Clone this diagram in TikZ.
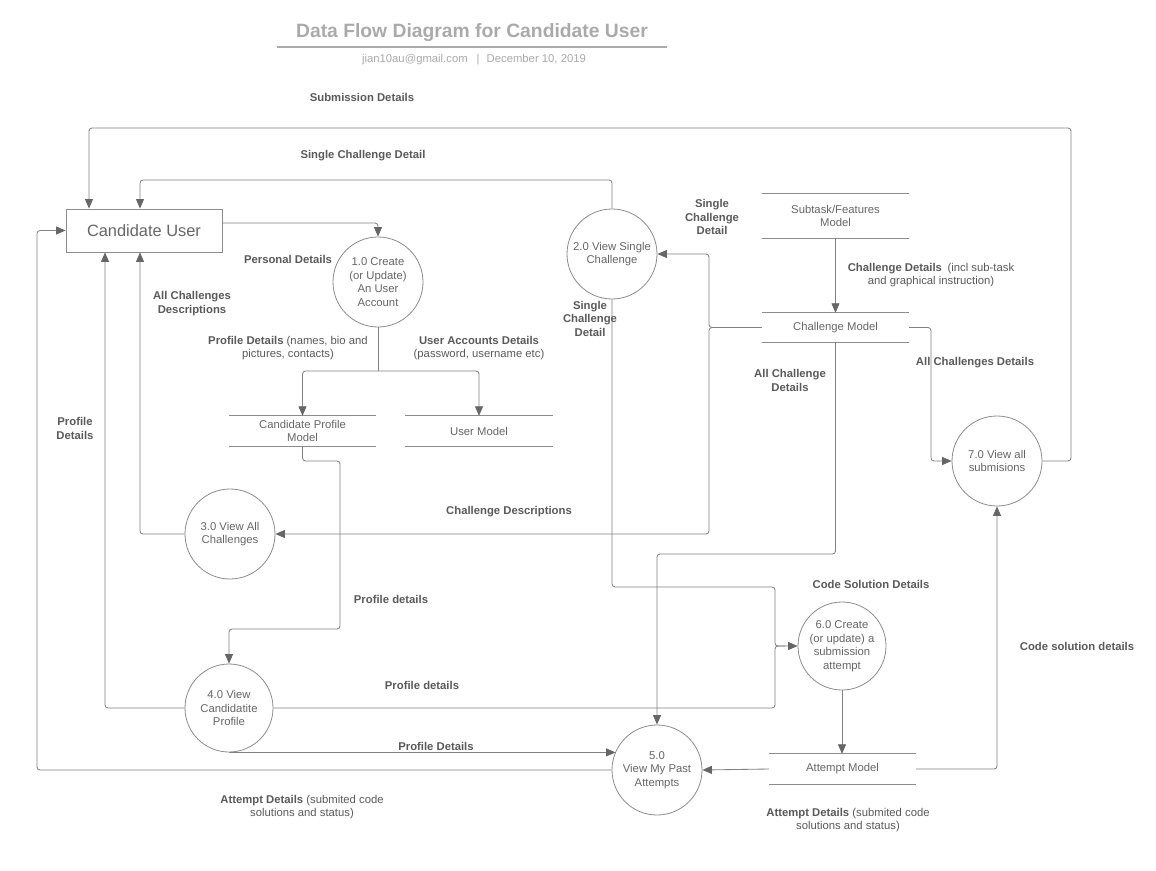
\documentclass[tikz,border=0pt]{standalone}
\usepackage{fontspec}
\setmainfont{Liberation Sans}
\usetikzlibrary{arrows.meta}
\definecolor{ln}{HTML}{828282}
\definecolor{circ}{HTML}{8C8C8C}
\definecolor{txt}{HTML}{666666}
\definecolor{lbltxt}{HTML}{5A5A5A}
\definecolor{ttl}{HTML}{AAAAAA}
\definecolor{sub}{HTML}{AAAAAA}
\definecolor{arr}{HTML}{666666}
\begin{document}
\begin{tikzpicture}[x=1pt,y=-1pt,
  every node/.style={font=\fontsize{11.3}{13.5}\selectfont, text=txt},
  proc/.style={circle,draw=circ,line width=0.8pt,minimum size=90pt,inner sep=0pt,align=center},
  store/.style={minimum width=147pt,inner sep=0pt,align=center},
  storeline/.style={draw=circ,line width=0.9pt},
  flow/.style={draw=ln,line width=0.85pt,rounded corners=3pt,-{Triangle[length=9.5pt,width=8pt,color=arr]}},
  wire/.style={draw=ln,line width=0.85pt,rounded corners=3pt},
  lbl/.style={align=center,text=lbltxt,font=\fontsize{11.3}{13.5}\selectfont\bfseries},
]
\useasboundingbox[fill=white] (0,0) rectangle (1156,870);

% title
\node[font=\fontsize{19.3}{22}\selectfont\bfseries, text=ttl] (title) at (472,32.5) {Data Flow Diagram for Candidate User};
\draw[draw=ttl, line width=1.4pt] (277,47) -- (667,47);
\node[text=sub] (subtitle) at (474,59.5) {jian10au@gmail.com\hspace{9pt}|\hspace{7pt}December 10, 2019};

% external entity
\node[draw=circ, line width=0.9pt, minimum width=156pt, minimum height=43pt, inner sep=0pt, font=\fontsize{16.4}{19}\selectfont] (cu) at (144,230.5) {Candidate User};

% processes
\node[proc] (p1) at (378,282) {1.0 Create\\(or Update)\\An User\\Account};
\node[proc] (p2) at (612,254) {2.0 View Single\\Challenge};
\node[proc] (p3) at (230,534) {3.0 View All\\Challenges};
\node[proc, minimum size=88pt] (p4) at (229,708) {4.0 View\\Candidatite\\Profile};
\node[proc] (p5) at (657,770) {5.0\\View My Past\\Attempts};
\node[proc, minimum size=88pt] (p6) at (842,646) {6.0 Create\\(or update) a\\submission\\attempt};
\node[proc] (p7) at (997,461) {7.0 View all\\submisions};

% data stores
\node[store, minimum height=44pt] (sf) at (835.5,216) {Subtask/Features\\Model};
\node[store, minimum height=29pt] (cm) at (835.5,327.5) {Challenge Model};
\node[store, minimum height=30pt] (cpm) at (302.5,431) {\raisebox{2pt}{\parbox{147pt}{\centering Candidate Profile\\Model}}};
\node[store, minimum height=30pt] (um) at (479,431) {User Model};
\node[store, minimum height=30pt] (am) at (842.5,769) {Attempt Model};
\foreach \n in {sf,cm,cpm,um,am}
  \draw[storeline] (\n.north west) -- (\n.north east) (\n.south west) -- (\n.south east);

% connectors
\draw[flow] (p7.east) -- (1071,0 |- p7.east) -- (1071,128) -- (89,128) -- (89,0 |- cu.north);
\draw[flow] (p2.north) |- (140,180) -- (140,0 |- cu.north);
\draw[flow] (cu.east |- 0,223) -| (p1.north);
\coordinate (j1) at (378,371);
\draw[wire] (p1.south) -- (j1);
\draw[flow] (j1) -| (cpm.north);
\draw[flow] (j1) -| (um.north);
\draw[flow] (p3.west) -| (140,0 |- cu.south);
\draw[flow] (p4.west) -| (105,0 |- cu.south);
\draw[flow] (p5.west) -- (37,0 |- p5.west) |- (cu.west);
\draw[flow] (cpm.south) |- (340,461) |- (229,629) -- (p4.north);
\draw[flow] (cm.west) -| (709,0 |- p2.east) -- (p2.east);
\draw[flow] (cm.west) -| (709,0 |- p3.east) -- (p3.east);
\draw[flow] (sf.south) -- (cm.north);
\draw[flow] (cm.east) -| (931,0 |- p7.west) -- (p7.west);
\draw[flow] (cm.south) |- (657,554) -- (p5.north);
\draw[flow] (p2.south) |- (775,587) |- (p6.west);
\draw[wire] (p4.east) -| (775,0 |- p6.west) -- (785,0 |- p6.west);
\draw[flow] (p4.south) -- (p4.south -| p5.156);
\draw[flow] (p6.south) -- (p6.south |- am.north);
\draw[flow] (am.west) -- (p5.east);
\draw[flow] (am.east) -| (p7.south);

% labels
\node[lbl] (l1) at (362,97) {Submission Details};
\node[lbl] (l2) at (363,156) {Single Challenge Detail};
\node[lbl] (l3) at (288,259) {Personal Details};
\node[lbl] (l4) at (192,303.5) {All Challenges\\Descriptions};
\node[lbl, font=\fontsize{11.3}{13.5}\selectfont] (l5) at (288,348) {\textbf{Profile Details} (names, bio and\\pictures, contacts)};
\node[lbl, font=\fontsize{11.3}{13.5}\selectfont] (l6) at (479,348) {\textbf{User Accounts Details}\\(password, username etc)};
\node[lbl] (l7) at (712,217) {Single\\Challenge\\Detail};
\node[lbl, font=\fontsize{11.3}{13.5}\selectfont] (l8) at (931,275) {\textbf{Challenge Details}\enspace(incl sub-task\\and graphical instruction)};
\node[lbl] (l9) at (975,363) {All Challenges Details};
\node[lbl] (l10) at (590,318.5) {Single\\Challenge\\Detail};
\node[lbl] (l11) at (790,380.5) {All Challenge\\Details};
\node[lbl] (l12) at (509,512) {Challenge Descriptions};
\node[lbl] (l13) at (391,599) {Profile details};
\node[lbl] (l14) at (75,428.5) {Profile\\Details};
\node[lbl] (l15) at (871,584) {Code Solution Details};
\node[lbl] (l16) at (422,685) {Profile details};
\node[lbl] (l17) at (436,746) {Profile Details};
\node[lbl] (l18) at (1077,646) {Code solution details};
\node[lbl, font=\fontsize{11.3}{13.5}\selectfont] (l19) at (302,807) {\textbf{Attempt Details} (submited code\\solutions and status)};
\node[lbl, font=\fontsize{11.3}{13.5}\selectfont] (l20) at (848,820) {\textbf{Attempt Details} (submited code\\solutions and status)};
\end{tikzpicture}
\end{document}
